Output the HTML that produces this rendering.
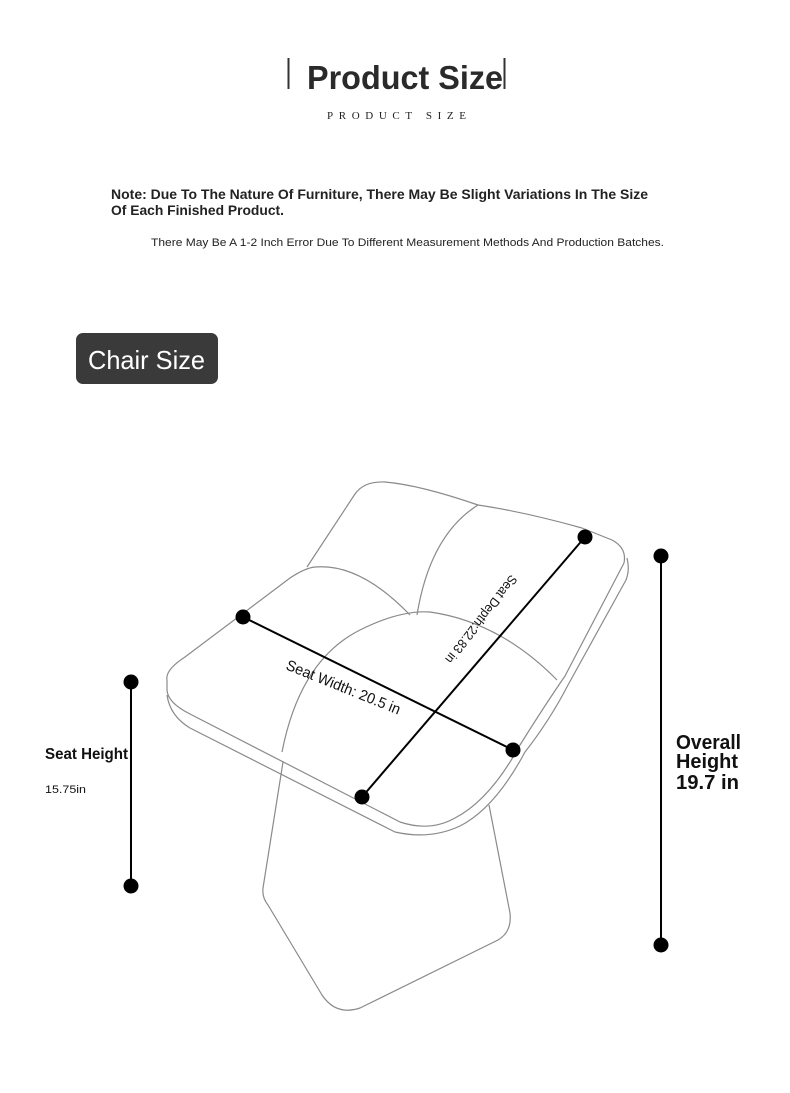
<!DOCTYPE html>
<html><head><meta charset="utf-8"><style>
html,body{margin:0;padding:0;background:#fff;}
svg{display:block;}
text{font-family:"Liberation Sans",sans-serif;}
</style></head><body>
<svg width="790" height="1093" viewBox="0 0 790 1093" xmlns="http://www.w3.org/2000/svg">
<rect width="790" height="1093" fill="#fff"/>
<line x1="288.5" y1="58" x2="288.5" y2="89" stroke="#333" stroke-width="2"/>
<line x1="504.5" y1="58" x2="504.5" y2="89" stroke="#333" stroke-width="2"/>
<text x="307" y="89" font-size="33" font-weight="bold" fill="#2a2a2a" textLength="196" lengthAdjust="spacingAndGlyphs">Product Size</text>
<text x="327" y="119" font-size="11" fill="#222" style="font-family:'Liberation Serif',serif" textLength="139" lengthAdjust="spacing">PRODUCT SIZE</text>
<text x="111" y="199" font-size="14" font-weight="bold" fill="#222" textLength="537" lengthAdjust="spacingAndGlyphs">Note: Due To The Nature Of Furniture, There May Be Slight Variations In The Size</text>
<text x="111" y="215" font-size="14" font-weight="bold" fill="#222" textLength="173" lengthAdjust="spacingAndGlyphs">Of Each Finished Product.</text>
<text x="151" y="246" font-size="11" fill="#222" textLength="513" lengthAdjust="spacingAndGlyphs">There May Be A 1-2 Inch Error Due To Different Measurement Methods And Production Batches.</text>
<rect x="76" y="333" width="142" height="51" rx="7" fill="#3a3a3a"/>
<text x="88" y="369" font-size="26" fill="#fff" textLength="117" lengthAdjust="spacingAndGlyphs">Chair Size</text>
<g fill="none" stroke="#8a8a8a" stroke-width="1.2" stroke-linejoin="round">
<path d="M283,762 L263,888 Q262,898 268,905 L322,995 Q336,1016 360,1008 L498,940 Q512,932 510,913 L489,805"/>
<path d="M307,567 L355,494 Q364,481 385,482 Q420,485 478,505 Q525,512 582,528 L612,540 Q627,548 624,563"/>
<path d="M478,505 Q430,535 417,615"/>
<path d="M167,680 Q165,670 185,657 L290,578 Q305,568 315,567 Q360,563 410,615"/>
<path d="M624,563 L565,676 Q545,705 520,745 Q490,800 455,818 Q430,832 400,822 L190,714 Q166,702 167,688 L167,680"/>
<path d="M627,558 Q630,570 626,580 L568,685 Q550,720 525,752 Q495,808 460,826 Q430,840 395,832 L190,728 Q170,716 167,695"/>
<path d="M282,752 Q300,660 360,630 Q400,610 430,612 Q500,622 557,680"/>
</g>
<g stroke="#000" stroke-width="2">
<line x1="243" y1="617" x2="513" y2="750"/>
<line x1="585" y1="537" x2="362" y2="797"/>
<line x1="131" y1="682" x2="131" y2="886"/>
<line x1="661" y1="556" x2="661" y2="945"/>
</g>
<g fill="#000">
<circle cx="243" cy="617" r="7.5"/><circle cx="513" cy="750" r="7.5"/>
<circle cx="585" cy="537" r="7.5"/><circle cx="362" cy="797" r="7.5"/>
<circle cx="131" cy="682" r="7.5"/><circle cx="131" cy="886" r="7.5"/>
<circle cx="661" cy="556" r="7.5"/><circle cx="661" cy="945" r="7.5"/>
</g>
<text x="0" y="0" font-size="15" fill="#111" transform="translate(285,669) rotate(22)" textLength="122" lengthAdjust="spacingAndGlyphs">Seat Width: 20.5 in</text>
<text x="0" y="0" font-size="13" fill="#111" transform="translate(511,574) rotate(128)" textLength="108" lengthAdjust="spacingAndGlyphs">Seat Depth:22.83 in</text>
<text x="45" y="759" font-size="16" font-weight="bold" fill="#111" textLength="83" lengthAdjust="spacingAndGlyphs">Seat Height</text>
<text x="45" y="793" font-size="11" fill="#111" textLength="41" lengthAdjust="spacingAndGlyphs">15.75in</text>
<text x="676" y="749" font-size="20" font-weight="bold" fill="#111" textLength="65" lengthAdjust="spacingAndGlyphs">Overall</text>
<text x="676" y="768" font-size="20" font-weight="bold" fill="#111" textLength="62" lengthAdjust="spacingAndGlyphs">Height</text>
<text x="676" y="789" font-size="20" font-weight="bold" fill="#111" textLength="63" lengthAdjust="spacingAndGlyphs">19.7 in</text>
</svg>
</body></html>
